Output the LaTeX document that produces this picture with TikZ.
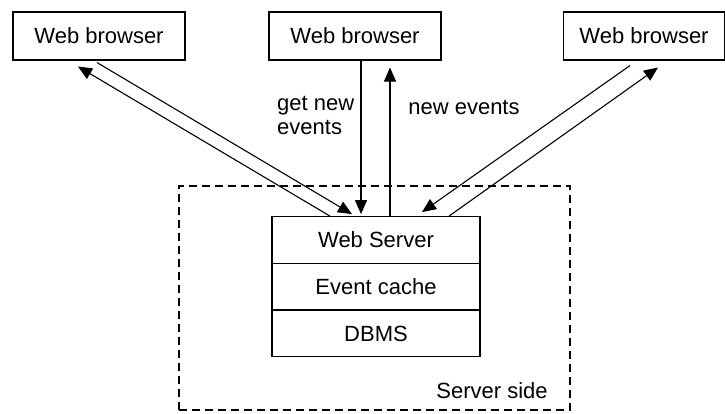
\documentclass[tikz,border=0pt]{standalone}
\usepackage{fontspec}
\setmainfont{Liberation Sans}
\usetikzlibrary{arrows.meta}

\begin{document}
\begin{tikzpicture}[x=1pt, y=-1pt, >={Triangle[length=14pt,width=12pt]},
    every node/.style={font=\fontsize{22}{24}\selectfont},
    browser/.style={draw, line width=1.1pt, minimum width=172pt, minimum height=48pt},
    layer/.style={draw, line width=1.1pt, minimum width=208pt, minimum height=46.7pt},
    link/.style={->, line width=1.1pt}]
    \useasboundingbox (0,0) rectangle (725,413);

    % server side frame
    \node (srvbox) at (374.5,298) [draw, line width=1.1pt, dash pattern=on 8pt off 5pt,
      minimum width=391pt, minimum height=224pt] {};
    \node (sidelbl) at (492,391) {Server side};

    \node (b1) at (99,36) [browser] {Web browser};
    \node (b2) at (355,36) [browser] {Web browser};
    \node (b3) at (644,36) [browser, minimum width=161pt] {Web browser};

    \foreach \name/\y/\txt in {web/240/Web Server, cache/286.5/Event cache, dbms/333.5/DBMS} {
      \node (\name) at (376,\y) [layer] {\txt};
    }

    \node (getlbl) at (277,115) [anchor=west, align=left, inner sep=0pt] {get new\\events};
    \node (newlbl) at (464,107) {new events};

    \draw [link] ([xshift=-2pt,yshift=-2pt]b1.south) -- ([xshift=-24pt,yshift=2pt]web.north);
    \draw [link] ([xshift=-46pt]web.north) -- ([xshift=-21pt,yshift=-6pt]b1.south);
    \draw [link] ([xshift=6pt]b2.south) -- ([xshift=-15pt,yshift=2pt]web.north);
    \draw [link] ([xshift=14pt]web.north) -- ([xshift=35pt,yshift=-7pt]b2.south);
    \draw [link] ([xshift=-14pt,yshift=-5pt]b3.south) -- ([xshift=46pt,yshift=4pt]web.north);
    \draw [link] ([xshift=73pt]web.north) -- ([xshift=14pt,yshift=-7pt]b3.south);
\end{tikzpicture}
\end{document}
